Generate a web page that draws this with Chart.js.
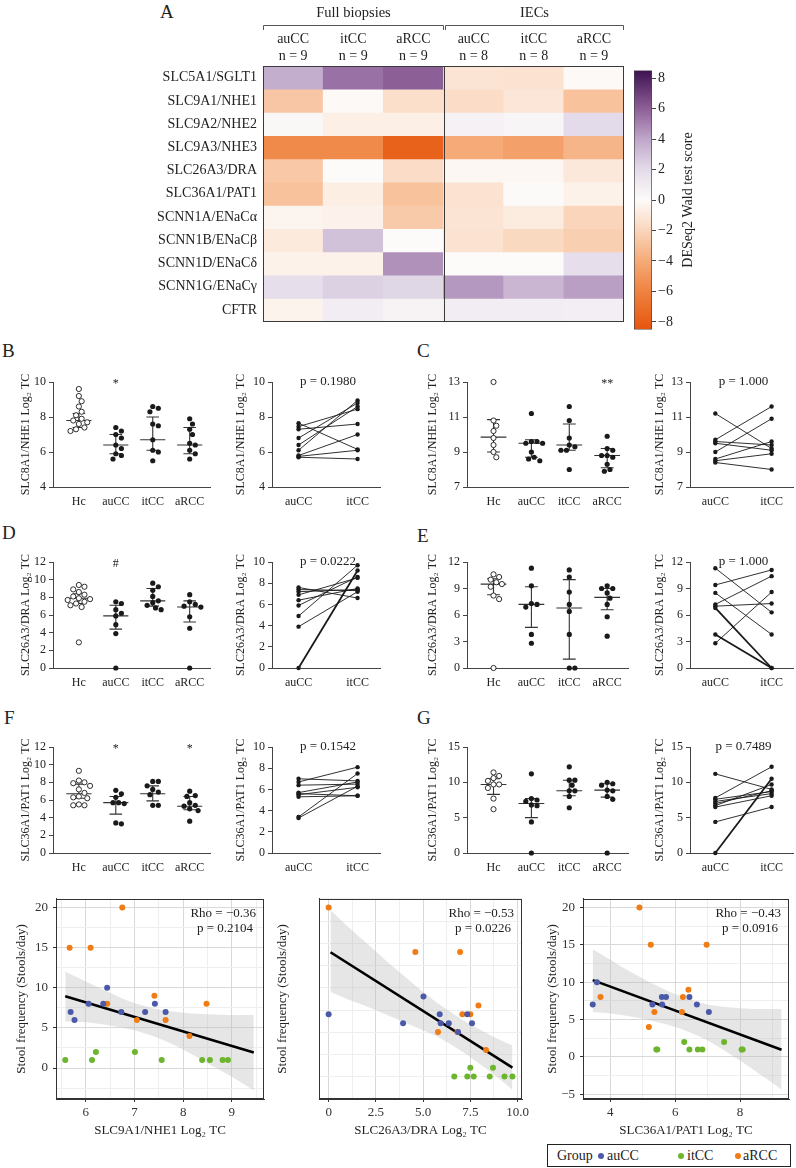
<!DOCTYPE html>
<html>
<head>
<meta charset="utf-8">
<script src="https://cdn.jsdelivr.net/npm/chart.js@4.4.1/dist/chart.umd.min.js"></script>
<style>
  body { margin: 0; background: #fff; }
  #page { position: relative; width: 796px; height: 1168px; overflow: hidden;
          font-family: 'Liberation Serif', 'DejaVu Serif', serif; color: #222; }
  #page canvas { position: absolute; }
  .lbl { position: absolute; font-size: 19px; line-height: 19px; }
  #legend { position: absolute; left: 547px; top: 1144px; width: 244px; height: 23px;
            box-sizing: border-box; border: 1px solid #222; font-size: 14px; }
  #legend span { position: absolute; top: 2px; line-height: 17px; }
  #legend i { position: absolute; top: 8px; width: 6px; height: 6px; border-radius: 50%; }
</style>
</head>
<body>
<div id="page">
  <div class="lbl" style="left:160px;top:2px">A</div>
  <div class="lbl" style="left:2px;top:341px">B</div>
  <div class="lbl" style="left:417px;top:341px">C</div>
  <div class="lbl" style="left:2px;top:523px">D</div>
  <div class="lbl" style="left:417px;top:526px">E</div>
  <div class="lbl" style="left:4px;top:708px">F</div>
  <div class="lbl" style="left:417px;top:708px">G</div>
  <div id="legend">
    <span style="left:9px">Group</span>
    <i style="left:50px;background:#4b5aa8"></i><span style="left:59px">auCC</span>
    <i style="left:130px;background:#6cb52d"></i><span style="left:139px">itCC</span>
    <i style="left:187px;background:#f07c14"></i><span style="left:195px">aRCC</span>
  </div>
</div>
<script>
// ---------- panel A: heatmap ----------
const hmRows = ['SLC5A1/SGLT1', 'SLC9A1/NHE1', 'SLC9A2/NHE2', 'SLC9A3/NHE3', 'SLC26A3/DRA',
  'SLC36A1/PAT1', 'SCNN1A/ENaCα', 'SCNN1B/ENaCβ', 'SCNN1D/ENaCδ', 'SCNN1G/ENaCγ', 'CFTR'];
const hmCols = ['auCC', 'itCC', 'aRCC', 'auCC', 'itCC', 'aRCC'];
const hmN = [9, 9, 9, 8, 8, 9];
const hmGroups = ['Full biopsies', 'IECs'];
// Wald scores, one row per gene: full auCC, itCC, aRCC | IEC auCC, itCC, aRCC
const hmScores = [
  [3.7, 5.5, 6.0, -1.2, -1.3, -0.1],
  [-2.7, -0.1, -1.5, -1.6, -1.1, -2.9],
  [0.2, -0.6, -0.6, 0.6, 0.4, 2.0],
  [-5.6, -5.6, -7.8, -4.0, -4.5, -3.5],
  [-2.6, 0.0, -1.6, -0.2, -0.2, -1.0],
  [-2.9, -0.7, -2.9, -1.3, 0.05, -0.5],
  [-0.35, -0.45, -2.5, -1.2, -0.8, -2.0],
  [-0.9, 3.0, 0.0, -1.3, -1.8, -2.3],
  [-0.5, -0.5, 4.6, 0.0, 0.0, 1.8],
  [1.8, 2.4, 2.2, 4.4, 3.4, 4.2],
  [-0.4, 0.9, 0.5, 0.9, 0.9, 0.8]
];
const cbTicks = [-8, -6, -4, -2, 0, 2, 4, 6, 8];

// ---------- panels B-G ----------
const dotGroups = ['Hc', 'auCC', 'itCC', 'aRCC'];
const pairGroups = ['auCC', 'itCC'];

// B: SLC8A1/NHE1, biopsies (Hc, auCC, itCC, aRCC)
const bDots = [
  [9.6, 9.2, 8.9, 8.6, 8.3, 8.1, 7.9, 7.8, 7.7, 7.6, 7.4, 7.3, 7.2],
  [7.4, 7.2, 7.0, 6.8, 6.4, 6.2, 5.9, 5.8, 5.6],
  [8.6, 8.5, 8.3, 7.6, 7.5, 6.7, 6.1, 6.0, 5.5],
  [7.9, 7.6, 7.3, 7.0, 6.5, 6.4, 6.1, 5.9, 5.6]
];
const bMedian = [7.8, 6.4, 6.7, 6.4];
const bLow = [7.4, 5.9, 6.1, 5.9];
const bHigh = [8.2, 7.0, 8.0, 7.4];
const bMarks = ['', '*', '', ''];
const bPairAu = [7.65, 7.45, 7.3, 6.8, 6.4, 6.1, 5.8, 5.75, 5.7];
const bPairIt = [6.15, 8.45, 7.6, 8.8, 8.6, 8.95, 7.0, 6.1, 5.6];

// C: SLC8A1/NHE1, IECs
const cDots = [
  [13.0, 10.8, 10.5, 10.2, 9.8, 9.4, 9.0, 8.7],
  [11.2, 9.6, 9.6, 9.5, 9.5, 9.0, 8.7, 8.6, 8.5],
  [11.6, 10.8, 9.8, 9.4, 9.3, 9.1, 9.1, 8.0],
  [9.9, 9.2, 9.1, 8.8, 8.8, 8.7, 8.3, 8.0, 7.9]
];
const cMedian = [9.85, 9.5, 9.4, 8.8];
const cLow = [9.0, 8.7, 9.1, 8.1];
const cHigh = [10.85, 9.7, 10.6, 9.2];
const cMarks = ['', '', '', '**'];
const cPairAu = [11.2, 9.7, 9.6, 9.5, 9.0, 8.6, 8.5, 8.4];
const cPairIt = [9.2, 11.6, 9.4, 9.1, 10.9, 9.6, 8.9, 8.0];

// D: SLC26A3/DRA, biopsies
const dDots = [
  [9.4, 9.2, 8.9, 8.6, 8.3, 8.1, 7.9, 7.8, 7.7, 7.5, 7.3, 7.1, 6.9, 2.9],
  [7.5, 7.3, 6.6, 6.2, 5.9, 4.9, 3.9, 0],
  [9.6, 9.2, 8.8, 8.1, 7.6, 7.4, 7.1, 6.8, 6.6],
  [8.3, 7.5, 7.2, 7.0, 6.9, 5.8, 4.5, 0]
];
const dMedian = [7.9, 5.9, 7.6, 6.9];
const dLow = [7.3, 4.4, 7.0, 5.2];
const dHigh = [8.4, 7.1, 9.0, 7.6];
const dMarks = ['', '#', '', ''];
const dPairAu = [7.6, 7.4, 7.2, 6.9, 6.4, 5.9, 4.9, 3.9, 0];
const dPairIt = [6.6, 7.3, 7.4, 8.5, 7.5, 8.6, 9.7, 7.2, 9.2];

// E: SLC26A3/DRA, IECs
const eDots = [
  [10.6, 10.3, 10.0, 9.7, 9.5, 9.2, 8.2, 7.8, 0],
  [11.3, 9.3, 7.3, 7.2, 6.9, 3.8, 2.8],
  [11.1, 10.3, 8.6, 7.2, 6.4, 3.8, 0, 0],
  [9.3, 9.0, 9.0, 8.5, 7.9, 7.2, 5.8, 3.6]
];
const eMedian = [9.5, 7.2, 6.8, 8.0];
const eLow = [8.3, 4.6, 1.0, 6.6];
const eHigh = [10.1, 9.2, 10.0, 9.0];
const eMarks = ['', '', '', ''];
const ePairAu = [11.3, 9.4, 8.5, 7.2, 7.0, 6.8, 3.8, 2.8];
const ePairIt = [6.3, 11.1, 3.8, 10.4, 7.3, 0, 0, 8.6];

// F: SLC36A1/PAT1, biopsies
const fDots = [
  [9.3, 8.2, 8.0, 7.9, 7.6, 7.2, 6.8, 6.4, 6.3, 6.2, 5.5, 5.4, 5.4],
  [7.1, 6.7, 6.3, 5.7, 5.7, 5.6, 3.4, 3.3],
  [8.1, 8.1, 7.6, 7.2, 6.9, 6.6, 5.4, 5.4],
  [7.0, 6.5, 6.4, 5.7, 5.4, 5.3, 5.0, 4.8, 3.6]
];
const fMedian = [6.7, 5.7, 6.7, 5.3];
const fLow = [6.2, 4.4, 5.9, 4.9];
const fHigh = [7.8, 6.4, 7.6, 6.4];
const fMarks = ['', '*', '', '*'];
const fPairAu = [7.0, 6.7, 6.4, 5.7, 5.6, 5.5, 5.3, 3.4, 3.3];
const fPairIt = [6.8, 8.1, 6.5, 6.7, 5.4, 6.2, 5.4, 7.5, 6.3];

// G: SLC36A1/PAT1, IECs
const gDots = [
  [11.4, 10.9, 10.6, 10.2, 9.7, 9.7, 9.2, 7.7, 6.2],
  [11.2, 7.7, 7.5, 7.3, 6.8, 6.7, 4.4, 0],
  [12.2, 10.3, 10.3, 9.6, 8.8, 8.8, 8.0, 6.4],
  [10.0, 9.8, 9.6, 8.9, 8.8, 8.0, 7.6, 0]
];
const gMedian = [9.7, 7.0, 8.8, 8.9];
const gLow = [8.3, 5.0, 8.1, 7.9];
const gHigh = [10.5, 7.7, 10.3, 9.8];
const gMarks = ['', '', '', ''];
const gPairAu = [11.2, 7.8, 7.6, 7.3, 7.0, 6.7, 6.5, 4.4, 0];
const gPairIt = [9.0, 12.2, 8.7, 8.4, 8.8, 9.7, 8.1, 6.5, 10.5];

// ---------- bottom: stool frequency correlations ----------
const s1X = [5.69, 5.77, 6.06, 6.36, 6.44, 6.73, 7.22, 7.42, 7.64,
  5.67, 6.10, 6.44, 6.75, 7.05, 7.41, 7.64, 8.13, 8.48,
  5.58, 6.13, 6.21, 7.01, 7.56, 8.39, 8.55, 8.81, 8.92];
const s1Y = [7, 6, 8, 8, 10, 7, 7, 8, 7,
  15, 15, 8, 20, 6, 9, 6, 4, 8,
  1, 1, 2, 2, 1, 1, 1, 1, 1];
const s2X = [0, 3.94, 5.02, 5.88, 5.93, 6.36, 7.34, 7.59, 6.85,
  0, 4.59, 6.96, 7.08, 7.50, 7.93, 5.79, 6.82, 8.33,
  6.65, 7.34, 7.50, 7.68, 8.53, 8.70, 9.31, 9.73];
const s2Y = [8, 7, 10, 8, 7, 7, 8, 7, 6,
  20, 15, 15, 8, 8, 9, 6, 6, 4,
  1, 1, 2, 1, 1, 2, 1, 1];
const s3X = [3.46, 3.59, 5.30, 5.59, 5.72, 5.60, 6.44, 6.67, 7.04,
  4.90, 5.25, 6.97, 6.41, 6.24, 3.70, 5.36, 6.21, 5.19,
  5.42, 5.45, 6.28, 6.44, 6.70, 6.84, 7.51, 8.05, 8.08];
const s3Y = [7, 10, 7, 8, 8, 7, 8, 7, 6,
  20, 15, 15, 9, 8, 8, 6, 6, 4,
  1, 1, 2, 1, 1, 1, 2, 1, 1];
const s1Group = 'a'.repeat(9) + 'r'.repeat(9) + 'i'.repeat(9);
const s2Group = 'a'.repeat(9) + 'r'.repeat(9) + 'i'.repeat(8);
const s3Group = 'a'.repeat(9) + 'r'.repeat(9) + 'i'.repeat(9);

const s1LineX = [5.58, 9.45], s1LineY = [8.95, 1.93];
const s1BandX = [5.58, 6.0, 6.5, 7.0, 7.5, 8.0, 8.5, 9.0, 9.45];
const s1BandHi = [12.0, 10.8, 9.4, 8.1, 7.3, 6.9, 6.7, 6.6, 6.6];
const s1BandLo = [5.8, 5.7, 5.3, 4.7, 3.7, 2.3, 0.6, -1.1, -2.8];

const s2LineX = [0.1, 9.73], s2LineY = [14.97, 2.0];
const s2BandX = [0.1, 1, 2, 3, 4, 5, 6, 7, 8, 9, 9.73];
const s2BandHi = [19.7, 17.9, 16.0, 14.1, 12.3, 10.5, 8.9, 7.5, 6.3, 5.2, 4.5];
const s2BandLo = [10.5, 9.7, 8.9, 8.0, 7.1, 6.2, 5.2, 3.9, 2.4, 0.8, -0.5];

const s3LineX = [3.46, 9.28], s3LineY = [10.27, 0.95];
const s3BandX = [3.46, 4, 4.5, 5, 5.5, 6, 6.5, 7, 7.5, 8, 8.5, 9, 9.28];
const s3BandHi = [14.4, 13.0, 11.7, 10.5, 9.4, 8.4, 7.6, 7.0, 6.7, 6.5, 6.4, 6.4, 6.4];
const s3BandLo = [6.0, 5.8, 5.5, 5.1, 4.6, 4.0, 3.2, 2.2, 0.9, -0.5, -2.0, -3.5, -4.4];

// ===============================================================================================

const SERIF = "'Liberation Serif', 'DejaVu Serif', serif";
Chart.defaults.font.family = SERIF;
Chart.defaults.color = '#222';
Chart.defaults.animation = false;
Chart.defaults.responsive = false;
Chart.defaults.plugins.legend.display = false;
Chart.defaults.plugins.tooltip.enabled = false;

const page = document.getElementById('page');
const groupColors = { a: '#4b5aa8', i: '#6cb52d', r: '#f07c14' };
const minus = s => String(s).replace('-', '\u2212');

function mkCanvas(left, top, w, h) {
  const c = document.createElement('canvas');
  c.width = w; c.height = h;
  c.style.left = left + 'px'; c.style.top = top + 'px';
  c.style.width = w + 'px'; c.style.height = h + 'px';
  page.appendChild(c);
  return c;
}

// colour scale of the heatmap
const cmapAt = [-8.5, -6, -4, -2, 0, 2, 4, 6, 8.5];
const cmapRgb = [[230, 85, 13], [239, 130, 64], [245, 170, 120], [250, 213, 187], [253, 251, 249],
  [227, 219, 233], [191, 166, 201], [141, 95, 151], [61, 17, 82]];

function colorFor(v) {
  let k = 0;
  while (k < cmapAt.length - 2 && v > cmapAt[k + 1]) k++;
  const t = Math.max(0, Math.min(1, (v - cmapAt[k]) / (cmapAt[k + 1] - cmapAt[k])));
  const a = cmapRgb[k], b = cmapRgb[k + 1];
  return 'rgb(' + a.map((q, j) => Math.round(q + (b[j] - q) * t)).join(',') + ')';
}

// ---- heatmap ----
const hmPlugin = {
  id: 'hmDeco',
  afterDraw(chart) {
    const c = chart.ctx, a = chart.chartArea, xs = chart.scales.x;
    const mid = Math.round((xs.getPixelForValue(2) + xs.getPixelForValue(3)) / 2) + 0.5;
    const L = Math.round(a.left) + 0.5, R = Math.round(a.right) - 0.5;
    c.save();
    c.strokeStyle = '#3a3a3a'; c.lineWidth = 1;
    c.strokeRect(L, Math.round(a.top) + 0.5, R - L, Math.round(a.bottom - a.top) - 1);
    c.beginPath(); c.moveTo(mid, a.top); c.lineTo(mid, a.bottom); c.stroke();
    // group brackets and names
    c.strokeStyle = '#555';
    [[L, mid - 1], [mid + 1, R]].forEach((sp, i) => {
      c.beginPath();
      c.moveTo(sp[0], 30); c.lineTo(sp[0], 25.5); c.lineTo(sp[1], 25.5); c.lineTo(sp[1], 30);
      c.stroke();
      c.fillStyle = '#222'; c.font = '14.5px ' + SERIF;
      c.textAlign = 'center'; c.textBaseline = 'middle';
      c.fillText(hmGroups[i], (sp[0] + sp[1]) / 2, 13);
    });
    c.restore();
  }
};

new Chart(mkCanvas(150, 0, 476, 336), {
  type: 'bar',
  data: {
    labels: hmCols.map((c, i) => [c, 'n = ' + hmN[i]]),
    datasets: hmRows.map((name, r) => ({
      label: name,
      data: hmCols.map(() => [r, r + 1]),
      backgroundColor: hmScores[r].map(colorFor),
      grouped: false, barPercentage: 1, categoryPercentage: 1, borderWidth: 0
    }))
  },
  options: {
    layout: { padding: { left: 0, top: 0, right: 2, bottom: 2 }, autoPadding: false },
    scales: {
      x: {
        position: 'top',
        ticks: { font: { size: 14 }, padding: 1, maxRotation: 0, autoSkip: false, color: '#222' },
        grid: { display: false, drawTicks: false }, border: { display: false },
        afterFit: s => { s.height = 66; }
      },
      y: {
        min: 0, max: 11, reverse: true,
        afterBuildTicks: s => { s.ticks = hmRows.map((_, i) => ({ value: i + 0.5 })); },
        ticks: { callback: v => hmRows[Math.floor(v)], font: { size: 14 }, padding: 6, autoSkip: false, color: '#222' },
        grid: { display: false, drawTicks: false }, border: { display: false },
        afterFit: s => { s.width = 113; }
      }
    }
  },
  plugins: [hmPlugin]
});

// ---- colour bar ----
new Chart(mkCanvas(630, 60, 80, 280), {
  type: 'bar',
  data: {
    labels: ['score'],
    datasets: [{
      data: [[-8.5, 8.5]],
      backgroundColor: ctx => {
        const ch = ctx.chart;
        if (!ch.chartArea) return '#fff';
        const y = ch.scales.y;
        const g = ch.ctx.createLinearGradient(0, y.getPixelForValue(-8.5), 0, y.getPixelForValue(8.5));
        cmapAt.forEach((v, k) => g.addColorStop((v + 8.5) / 17, 'rgb(' + cmapRgb[k].join(',') + ')'));
        return g;
      },
      borderColor: '#444', borderWidth: 1, borderSkipped: false,
      barPercentage: 1, categoryPercentage: 1
    }]
  },
  options: {
    layout: { padding: { left: 4, top: 7, right: 0, bottom: 7 }, autoPadding: false },
    scales: {
      x: { display: false },
      y: {
        position: 'right', min: -8.5, max: 8.5,
        afterBuildTicks: s => { s.ticks = cbTicks.map(v => ({ value: v })); },
        ticks: { callback: v => minus(v), font: { size: 14 }, padding: 2, color: '#222' },
        grid: { drawOnChartArea: false, tickLength: 4, color: '#444' },
        border: { display: false },
        afterFit: s => { s.width = 58; }
      }
    }
  },
  plugins: [{
    id: 'cbTitle',
    afterDraw(chart) {
      const c = chart.ctx;
      c.save();
      c.translate(58, 140); c.rotate(-Math.PI / 2);
      c.fillStyle = '#222'; c.font = '14px ' + SERIF;
      c.textAlign = 'center'; c.textBaseline = 'middle';
      c.fillText('DESeq2 Wald test score', 0, 0);
      c.restore();
    }
  }]
});

// ---- dot plots and paired plots ----
const notesPlugin = {
  id: 'notes',
  afterDatasetsDraw(chart, args, o) {
    const c = chart.ctx, xs = chart.scales.x, ys = chart.scales.y;
    const yTop = ys.getPixelForValue(ys.max);
    c.save();
    c.fillStyle = '#222'; c.textAlign = 'center'; c.textBaseline = 'middle';
    if (o.marks) {
      c.font = '12px ' + SERIF;
      o.marks.forEach((m, g) => { if (m) c.fillText(m, xs.getPixelForValue(g), yTop + 2); });
    }
    if (o.p) {
      c.font = '13px ' + SERIF;
      c.fillText(o.p, xs.getPixelForValue(0.5), yTop);
    }
    c.restore();
  }
};

// spread points sideways so that they do not overlap (simple beeswarm)
function swarm(vals, pxY, pxX) {
  const d = 5.4, step = 2.8, placed = [], off = vals.map(() => 0);
  const order = vals.map((v, i) => i).sort((p, q) => vals[q] - vals[p]);
  order.forEach(i => {
    const py = vals[i] * pxY;
    for (let k = 0; k < 30; k++) {
      const cand = (k % 2 ? 1 : -1) * Math.ceil(k / 2) * step;
      if (placed.every(p => Math.hypot(p.x - cand, p.y - py) >= d)) {
        placed.push({ x: cand, y: py });
        off[i] = cand / pxX;
        break;
      }
    }
  });
  return off;
}

function axisOpts(o) {
  return {
    x: {
      type: 'linear', min: o.xMin, max: o.xMax,
      afterBuildTicks: s => { s.ticks = o.labels.map((_, i) => ({ value: i })); },
      ticks: { callback: v => o.labels[v], font: { size: 12 }, padding: 8, color: '#222', maxRotation: 0, autoSkip: false },
      grid: { display: false, drawTicks: false },
      border: { display: true, color: '#444' },
      afterFit: s => { s.height = 26; }
    },
    y: {
      min: o.yMin, max: o.yMax,
      ticks: { stepSize: o.step, font: { size: 12 }, padding: 3, color: '#222' },
      grid: { drawOnChartArea: false, tickLength: 4, color: '#444' },
      border: { display: true, color: '#444' },
      title: { display: true, text: o.title, font: { size: 12 }, padding: 0, color: '#222' },
      afterFit: s => { s.width = o.l; }
    }
  };
}

function dotPlot(o) {
  const [x0, y0, x1, y1] = o.area;
  const left = o.titleX - 7, top = y0 - 14;
  const xMin = -0.7, xMax = 3.55;
  const pxX = (x1 - x0) / (xMax - xMin), pxY = (y1 - y0) / (o.yMax - o.yMin);
  const datasets = o.dots.map((vals, g) => {
    const off = swarm(vals, pxY, pxX);
    return {
      data: vals.map((v, k) => ({ x: g + off[k], y: v })),
      pointRadius: 2.6,
      pointBackgroundColor: g === 0 ? '#fff' : '#1a1a1a',
      pointBorderColor: '#1a1a1a', pointBorderWidth: g === 0 ? 0.9 : 0,
      clip: false
    };
  });
  const seg = [];
  o.median.forEach((m, g) => {
    const lo = o.low[g], hi = o.high[g];
    seg.push({ x: g - 0.34, y: m }, { x: g + 0.34, y: m }, { x: g, y: null });
    seg.push({ x: g, y: lo }, { x: g, y: hi }, { x: g, y: null });
    seg.push({ x: g - 0.17, y: lo }, { x: g + 0.17, y: lo }, { x: g, y: null });
    seg.push({ x: g - 0.17, y: hi }, { x: g + 0.17, y: hi }, { x: g, y: null });
  });
  datasets.push({ data: seg, showLine: true, borderColor: '#333', borderWidth: 1.1, pointRadius: 0, spanGaps: false, clip: false });
  new Chart(mkCanvas(left, top, x1 + 4 - left, y1 + 26 - top), {
    type: 'scatter',
    data: { datasets },
    options: {
      layout: { padding: { left: 0, top: 14, right: 4, bottom: 0 }, autoPadding: false },
      scales: axisOpts({ xMin, xMax, labels: dotGroups, yMin: o.yMin, yMax: o.yMax, step: o.step, title: o.title, l: x0 - left }),
      plugins: { notes: { marks: o.marks } }
    },
    plugins: [notesPlugin]
  });
}

function pairPlot(o) {
  const [x0, y0, x1, y1] = o.area;
  const left = o.titleX - 7, top = y0 - 14;
  const datasets = o.au.map((v, i) => ({
    data: [{ x: 0, y: v }, { x: 1, y: o.it[i] }],
    showLine: true, borderColor: '#1a1a1a',
    borderWidth: (v === 0 || o.it[i] === 0) ? 1.8 : 0.9,
    pointRadius: 2.2, pointBackgroundColor: '#1a1a1a', pointBorderWidth: 0, clip: false
  }));
  new Chart(mkCanvas(left, top, x1 + 3 - left, y1 + 26 - top), {
    type: 'scatter',
    data: { datasets },
    options: {
      layout: { padding: { left: 0, top: 14, right: 3, bottom: 0 }, autoPadding: false },
      scales: axisOpts({ xMin: -0.45, xMax: 1.38, labels: pairGroups, yMin: o.yMin, yMax: o.yMax, step: o.step, title: o.title, l: x0 - left }),
      plugins: { notes: { p: o.p } }
    },
    plugins: [notesPlugin]
  });
}

const nheTitle = 'SLC8A1/NHE1 Log\u2082 TC';
const draTitle = 'SLC26A3/DRA Log\u2082 TC';
const patTitle = 'SLC36A1/PAT1 Log\u2082 TC';
const rowY = [[382, 487], [562, 668], [747, 853]];

const panels = [
  { row: 0, side: 0, title: nheTitle, dot: [bDots, bMedian, bLow, bHigh, bMarks, 4, 10, 2], pair: [bPairAu, bPairIt, 'p = 0.1980', 4, 10, 2] },
  { row: 0, side: 1, title: nheTitle, dot: [cDots, cMedian, cLow, cHigh, cMarks, 7, 13, 2], pair: [cPairAu, cPairIt, 'p = 1.000', 7, 13, 2] },
  { row: 1, side: 0, title: draTitle, dot: [dDots, dMedian, dLow, dHigh, dMarks, 0, 12, 2], pair: [dPairAu, dPairIt, 'p = 0.0222', 0, 10, 2] },
  { row: 1, side: 1, title: draTitle, dot: [eDots, eMedian, eLow, eHigh, eMarks, 0, 12, 3], pair: [ePairAu, ePairIt, 'p = 1.000', 0, 12, 3] },
  { row: 2, side: 0, title: patTitle, dot: [fDots, fMedian, fLow, fHigh, fMarks, 0, 12, 2], pair: [fPairAu, fPairIt, 'p = 0.1542', 0, 10, 2] },
  { row: 2, side: 1, title: patTitle, dot: [gDots, gMedian, gLow, gHigh, gMarks, 0, 15, 5], pair: [gPairAu, gPairIt, 'p = 0.7489', 0, 15, 5] }
];
const dotX = [[53, 210, 26], [467, 628, 433]];
const pairX = [[272, 380, 241], [690, 793, 660]];

panels.forEach(p => {
  const [ya, yb] = rowY[p.row];
  const [dots, med, lo, hi, marks, yMin, yMax, step] = p.dot;
  const dx = dotX[p.side], px = pairX[p.side];
  dotPlot({ area: [dx[0], ya, dx[1], yb], titleX: dx[2], title: p.title, dots, median: med, low: lo, high: hi, marks, yMin, yMax, step });
  const [au, it, pv, pMin, pMax, pStep] = p.pair;
  pairPlot({ area: [px[0], ya, px[1], yb], titleX: px[2], title: p.title, au, it, p: pv, yMin: pMin, yMax: pMax, step: pStep });
});

// ---- correlation scatter plots ----
const isMajor = (v, m) => Math.abs(v / m - Math.round(v / m)) < 1e-6;

function corrPlot(o) {
  const [x0, y0, x1, y1] = o.area;
  const left = o.titleX - 8, top = y0 - 6;
  const pts = ['a', 'i', 'r'].map(gr => ({
    data: o.xs.map((x, i) => ({ x, y: o.ys[i], g: o.gs[i] })).filter(q => q.g === gr),
    pointRadius: 3, pointBackgroundColor: groupColors[gr], pointBorderWidth: 0
  }));
  const datasets = pts.concat([
    { data: o.lx.map((x, i) => ({ x, y: o.ly[i] })), showLine: true, borderColor: '#000', borderWidth: 2.6, pointRadius: 0 },
    { data: o.bx.map((x, i) => ({ x, y: o.bh[i] })), showLine: true, borderWidth: 0, pointRadius: 0, fill: '+1', backgroundColor: 'rgba(190,190,190,0.38)', tension: 0.3 },
    { data: o.bx.map((x, i) => ({ x, y: o.bl[i] })), showLine: true, borderWidth: 0, pointRadius: 0, tension: 0.3 }
  ]);
  const gridCol = m => ctx => (ctx.tick && isMajor(ctx.tick.value, m)) ? '#d9d9d9' : '#eeeeee';
  const tickCol = m => ctx => (ctx.tick && isMajor(ctx.tick.value, m)) ? '#333' : 'rgba(0,0,0,0)';
  new Chart(mkCanvas(left, top, x1 + 4 - left, y1 + 39 - top), {
    type: 'scatter',
    data: { datasets },
    options: {
      layout: { padding: { left: 0, top: 6, right: 4, bottom: 0 }, autoPadding: false },
      scales: {
        x: {
          min: o.xMin, max: o.xMax,
          ticks: { stepSize: o.xStep, includeBounds: false, autoSkip: false, maxRotation: 0, font: { size: 13 }, padding: 3, color: '#333',
            callback: v => isMajor(v, o.xMajor) ? o.xFmt(v) : '' },
          grid: { color: gridCol(o.xMajor), tickColor: tickCol(o.xMajor), tickLength: 3 },
          border: { display: true, color: '#333' },
          title: { display: true, text: o.xTitle, font: { size: 13 }, padding: 0, color: '#222' },
          afterFit: s => { s.height = 39; }
        },
        y: {
          min: o.yMin, max: o.yMax,
          ticks: { stepSize: 2.5, includeBounds: false, autoSkip: false, font: { size: 13 }, padding: 5, color: '#333',
            callback: v => isMajor(v, 5) ? minus(v) : '' },
          grid: { color: gridCol(5), tickColor: tickCol(5), tickLength: 3 },
          border: { display: true, color: '#333' },
          title: { display: true, text: 'Stool frequency (Stools/day)', font: { size: 13 }, padding: 0, color: '#222' },
          afterFit: s => { s.width = x0 - left; }
        }
      }
    },
    plugins: [{
      id: 'frame',
      afterDatasetsDraw(chart) {
        const c = chart.ctx, a = chart.chartArea;
        c.save();
        c.strokeStyle = '#333'; c.lineWidth = 1;
        c.strokeRect(Math.round(a.left) + 0.5, Math.round(a.top) + 0.5, Math.round(a.right - a.left) - 1, Math.round(a.bottom - a.top) - 1);
        c.fillStyle = '#222'; c.font = '13px ' + SERIF; c.textAlign = 'right'; c.textBaseline = 'middle';
        c.fillText(o.rho, a.right - 8, a.top + 15);
        c.fillText(o.p, a.right - 11, a.top + 30);
        c.restore();
      }
    }]
  });
}

const oneDec = v => v === 0 ? '0' : v.toFixed(1);
corrPlot({ area: [56, 892, 264, 1099], titleX: 22, xTitle: 'SLC9A1/NHE1 Log\u2082 TC',
  xMin: 5.39, xMax: 9.66, xStep: 0.5, xMajor: 1, xFmt: v => String(v), yMin: -3.86, yMax: 21.1,
  xs: s1X, ys: s1Y, gs: s1Group, lx: s1LineX, ly: s1LineY, bx: s1BandX, bh: s1BandHi, bl: s1BandLo,
  rho: 'Rho = \u22120.36', p: 'p = 0.2104' });
corrPlot({ area: [319, 892, 528, 1099], titleX: 283, xTitle: 'SLC26A3/DRA Log\u2082 TC',
  xMin: -0.51, xMax: 10.24, xStep: 1.25, xMajor: 2.5, xFmt: oneDec, yMin: -1.52, yMax: 20.98,
  xs: s2X, ys: s2Y, gs: s2Group, lx: s2LineX, ly: s2LineY, bx: s2BandX, bh: s2BandHi, bl: s2BandLo,
  rho: 'Rho = \u22120.53', p: 'p = 0.0226' });
corrPlot({ area: [583, 892, 789, 1099], titleX: 553, xTitle: 'SLC36A1/PAT1 Log\u2082 TC',
  xMin: 3.16, xMax: 9.51, xStep: 1, xMajor: 2, xFmt: v => String(v), yMin: -5.64, yMax: 21.16,
  xs: s3X, ys: s3Y, gs: s3Group, lx: s3LineX, ly: s3LineY, bx: s3BandX, bh: s3BandHi, bl: s3BandLo,
  rho: 'Rho = \u22120.43', p: 'p = 0.0916' });
</script>
</body>
</html>
